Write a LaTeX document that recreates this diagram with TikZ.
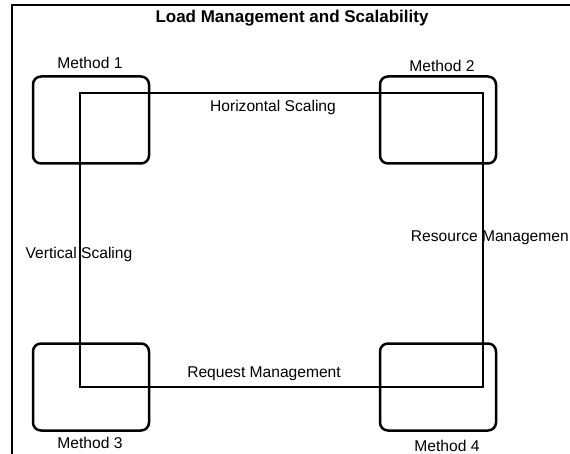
\documentclass[tikz,border=0pt]{standalone}
\usepackage{fontspec}
\setmainfont{Liberation Sans}
\tikzset{
	methodbox/.style={draw,line width=2.5pt,rounded corners=8pt,minimum width=116pt,minimum height=87pt},
	lbl/.style={font=\fontsize{15.6}{18}\selectfont,inner sep=0pt}
}
\begin{document}
\begin{tikzpicture}[x=1pt,y=-1pt]
		\useasboundingbox (0,0) rectangle (570,454);
		\draw [line width=1.5pt](12,460) -- (12,5) -- (575,5);
		\node [font=\bfseries\fontsize{17}{20}\selectfont] (title) at (292,18) {Load Management and Scalability};
		\node [methodbox] (m1) at (91,120) {};
		\node [methodbox] (m2) at (438,120) {};
		\node [methodbox] (m3) at (91,387) {};
		\node [methodbox] (m4) at (438,387) {};
		\node [lbl] (t1) at (90,63) {Method 1};
		\node [lbl] (t2) at (442,66) {Method 2};
		\node [lbl] (t3) at (90,443) {Method 3};
		\node [lbl] (t4) at (447,446) {Method 4};
		\coordinate (c1) at (80,93);
		\coordinate (c2) at (483,93);
		\coordinate (c3) at (80,387);
		\coordinate (c4) at (483,387);
		\draw [line width=2pt](c1) -- (c2) -- (c4) -- (c3) -- cycle;
		\node [lbl] (h) at (273,107) {Horizontal Scaling};
		\node [lbl] (r) at (264,374) {Request Management};
		\node [lbl] (v) at (79,254) {Vertical Scaling};
		\node [lbl,anchor=east] (s) at (569,238) {Resource Managemen};
	\end{tikzpicture}
\end{document}
